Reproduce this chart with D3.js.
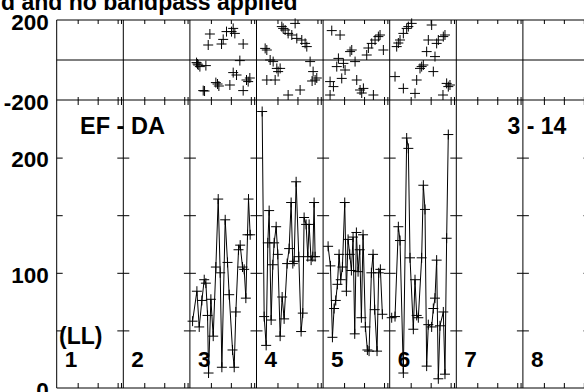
<!DOCTYPE html>
<html><head><meta charset="utf-8">
<script src="https://cdn.jsdelivr.net/npm/d3@7"></script>
<style>
body{margin:0;background:#fff;}
svg{display:block;font-family:"Liberation Sans",Arial,Helvetica,sans-serif;font-weight:bold;}
</style>
</head><body><svg id="c" width="584" height="392"></svg>
<script>
// ---------------- data ----------------
const titleText = "d and no bandpass applied";
const baselineLabel = "EF - DA";
const stokesLabel = "(LL)";
const channelLabel = "3 - 14";
const panelLabels = ["1","2","3","4","5","6","7","8"];
const phaseLabelTicks = [-200, 200];
const ampLabelTicks = [0, 100, 200];
const ampMinorTicks = [50, 100, 150, 200];
const timeTicks = [63, 123, 183, 193];   // minutes within each panel

// amplitude (bottom) : time in minutes within panel, amplitude
const ampTimes3 = [8,21,28,36,43,48,53,56,63,70,78,85,91,96,106,113,118,128,133,138,146,151,158,163,168,173,176,181];
const amp3      = [58,84,53,76,94,91,63,13,77,45,105,164,100,18,146,109,81,33,18,66,120,124,105,103,78,133,164,133];
const ampTimes4 = [17,23,29,34,38,44,49,53,59,64,71,77,83,92,98,104,109,113,119,127,134,139,143,149,154,158,164,169,173,176];
const amp4      = [240,62,37,126,154,59,107,126,140,116,45,79,60,108,121,161,108,110,179,114,49,65,148,142,114,142,111,114,161,114];
const ampTimes5 = [15,22,28,33,38,43,48,53,58,65,70,75,80,85,90,95,100,105,110,115,120,127,133,138,145,150,155,162,167,172,178];
const amp5      = [123,106,44,69,76,90,116,94,105,161,84,129,116,102,131,47,135,101,120,61,133,53,33,32,100,116,68,32,100,103,64];
const ampTimes6 = [6,16,26,31,41,51,56,61,71,76,81,86,96,101,106,111,116,126,131,136,141,146,151,161,166,171,176];
const amp6      = [61,62,140,128,13,217,208,113,51,94,63,61,113,176,155,19,55,53,69,78,111,8,54,66,12,130,220];

// phase (top) : time in minutes within panel, phase in degrees
const phaseTimes3 = [20,23,25,30,40,44,48,55,60,78,83,87,95,100,110,120,125,130,130,135,140,150,160,160,170,175,180];
const phase3      = [-13,-20,-25,-33,-153,-155,-28,75,130,-113,-120,-130,80,103,142,-125,142,158,-63,133,-75,-3,80,-153,-100,-108,-90];
const phaseTimes4 = [26,31,31,41,50,56,61,65,71,76,80,86,95,95,106,116,121,131,136,146,151,161,167,170,176,181];
const phase4      = [58,50,-100,0,-8,-100,-42,-58,-42,167,158,150,-175,133,125,183,108,-150,100,83,67,-8,-105,-58,-100,-90];
const phaseTimes5 = [21,21,26,31,41,46,51,56,61,66,81,86,96,101,111,116,121,131,136,146,151,156,166,171,181];
const phase5      = [-108,-175,147,-133,-33,8,125,-92,-17,-50,42,50,-8,-100,-150,-165,-142,25,60,83,-175,100,117,125,50];
const phaseTimes6 = [16,21,26,31,41,41,51,56,66,76,81,91,96,101,111,116,126,131,136,141,146,160,161,166,171,176,181];
const phase6      = [-83,67,85,100,-142,133,158,167,183,-167,-100,-42,-33,-25,42,100,175,-58,17,83,100,-175,117,125,-117,-133,-125];

const panelData = [
  {panel:"3", ampT:ampTimes3, amp:amp3, phT:phaseTimes3, ph:phase3},
  {panel:"4", ampT:ampTimes4, amp:amp4, phT:phaseTimes4, ph:phase4},
  {panel:"5", ampT:ampTimes5, amp:amp5, phT:phaseTimes5, ph:phase5},
  {panel:"6", ampT:ampTimes6, amp:amp6, phT:phaseTimes6, ph:phase6}
];

// ---------------- layout ----------------
const left = 56.7, panelW = 66.6;
const topY0 = 20, topY1 = 100, botY1 = 388;
const svg = d3.select("#c");

const xBand = d3.scaleBand().domain(panelLabels).range([left, left + panelW*panelLabels.length]).paddingInner(0).paddingOuter(0);
const right = left + panelW*panelLabels.length;
const tScale = p => d3.scaleLinear().domain([0, 200]).range([xBand(p), xBand(p) + xBand.bandwidth()]);
const yPh = d3.scaleLinear().domain([-200, 200]).range([topY1, topY0]);
const yAmp = d3.scaleLinear().domain([0, 250]).range([botY1, topY1]);

const ink = "#000";

// frame lines
const g = svg.append("g");
g.append("line").attr("x1", left).attr("x2", right).attr("y1", topY0).attr("y2", topY0).attr("stroke", ink);
g.append("line").attr("x1", left).attr("x2", right).attr("y1", topY1).attr("y2", topY1).attr("stroke", ink);
g.append("line").attr("x1", left).attr("x2", right).attr("y1", botY1).attr("y2", botY1).attr("stroke", ink);
g.append("line").attr("x1", left).attr("x2", right).attr("y1", yPh(0)).attr("y2", yPh(0)).attr("stroke", ink);
// vertical dividers
const edges = panelLabels.map(p => xBand(p)).concat([right]);
g.selectAll("line.div").data(edges).join("line").attr("class","div")
  .attr("x1", d => d).attr("x2", d => d).attr("y1", topY0).attr("y2", botY1).attr("stroke", ink);

// time ticks for every panel
panelLabels.forEach(p => {
  const ts = tScale(p);
  const mk = (axisFn, y, size) => {
    const a = svg.append("g").attr("transform", `translate(0,${y})`)
      .call(axisFn(ts).tickValues(timeTicks).tickSize(size).tickFormat(""));
    a.select(".domain").remove();
    a.selectAll("line").attr("stroke", ink);
  };
  mk(d3.axisBottom, topY0, 4);
  mk(d3.axisTop, topY1, 3);
  mk(d3.axisBottom, topY1, 5);
  mk(d3.axisTop, botY1, 5);
});

// amplitude y ticks at every divider (both sides) and inside left edge
edges.forEach((x, i) => {
  const r = svg.append("g").attr("transform", `translate(${x},0)`)
    .call(d3.axisRight(yAmp).tickValues(ampMinorTicks).tickSize(6).tickFormat(""));
  r.select(".domain").remove(); r.selectAll("line").attr("stroke", ink);
  if (i > 0) {
    const l = svg.append("g").attr("transform", `translate(${x},0)`)
      .call(d3.axisLeft(yAmp).tickValues(ampMinorTicks).tickSize(6).tickFormat(""));
    l.select(".domain").remove(); l.selectAll("line").attr("stroke", ink);
  }
});

// y labels
const fs = 22.5;
const ampAx = svg.append("g").attr("transform", `translate(${left},0)`)
  .call(d3.axisLeft(yAmp).tickValues(ampLabelTicks).tickSize(0).tickPadding(8).tickFormat(d => String(d)));
const phAx = svg.append("g").attr("transform", `translate(${left},0)`)
  .call(d3.axisLeft(yPh).tickValues(phaseLabelTicks).tickSize(0).tickPadding(8).tickFormat(d => String(d)));
[ampAx, phAx].forEach(a => {
  a.select(".domain").remove();
  a.selectAll("text").attr("font-size", fs).attr("font-family", "Liberation Sans, Arial, sans-serif")
    .attr("font-weight", "bold").attr("fill", ink).attr("dy", "0.41em");
});

// data
const cross = "M-5,0H5M0,-5V5";
panelData.forEach(d => {
  const ts = tScale(d.panel);
  const pts = d.ampT.map((t, i) => [ts(t), yAmp(d.amp[i])]);
  svg.append("path").attr("d", d3.line()(pts)).attr("fill", "none").attr("stroke", ink).attr("stroke-width", 1);
  svg.append("g").selectAll("path").data(pts).join("path")
    .attr("transform", p => `translate(${p[0]},${p[1]})`).attr("d", cross).attr("stroke", ink).attr("stroke-width", 1);
  const ppts = d.phT.map((t, i) => [ts(t), yPh(d.ph[i])]);
  svg.append("g").selectAll("path").data(ppts).join("path")
    .attr("transform", p => `translate(${p[0]},${p[1]})`).attr("d", cross).attr("stroke", ink).attr("stroke-width", 1);
});

// texts
const txt = (s, x, y, anchor, size) => svg.append("text").attr("x", x).attr("y", y)
  .attr("text-anchor", anchor || "start").attr("font-size", size || fs).attr("fill", ink).text(s);
txt(titleText, 297.5, 9.5, "end", 23);
txt(baselineLabel, 80, 134, "start", 23.5);
txt(channelLabel, 507.5, 133.5, "start", 23);
txt(stokesLabel, 59, 344, "start", 23);
panelLabels.forEach(p => txt(p, xBand(p) + 8, 366.7));
</script>
</body></html>
